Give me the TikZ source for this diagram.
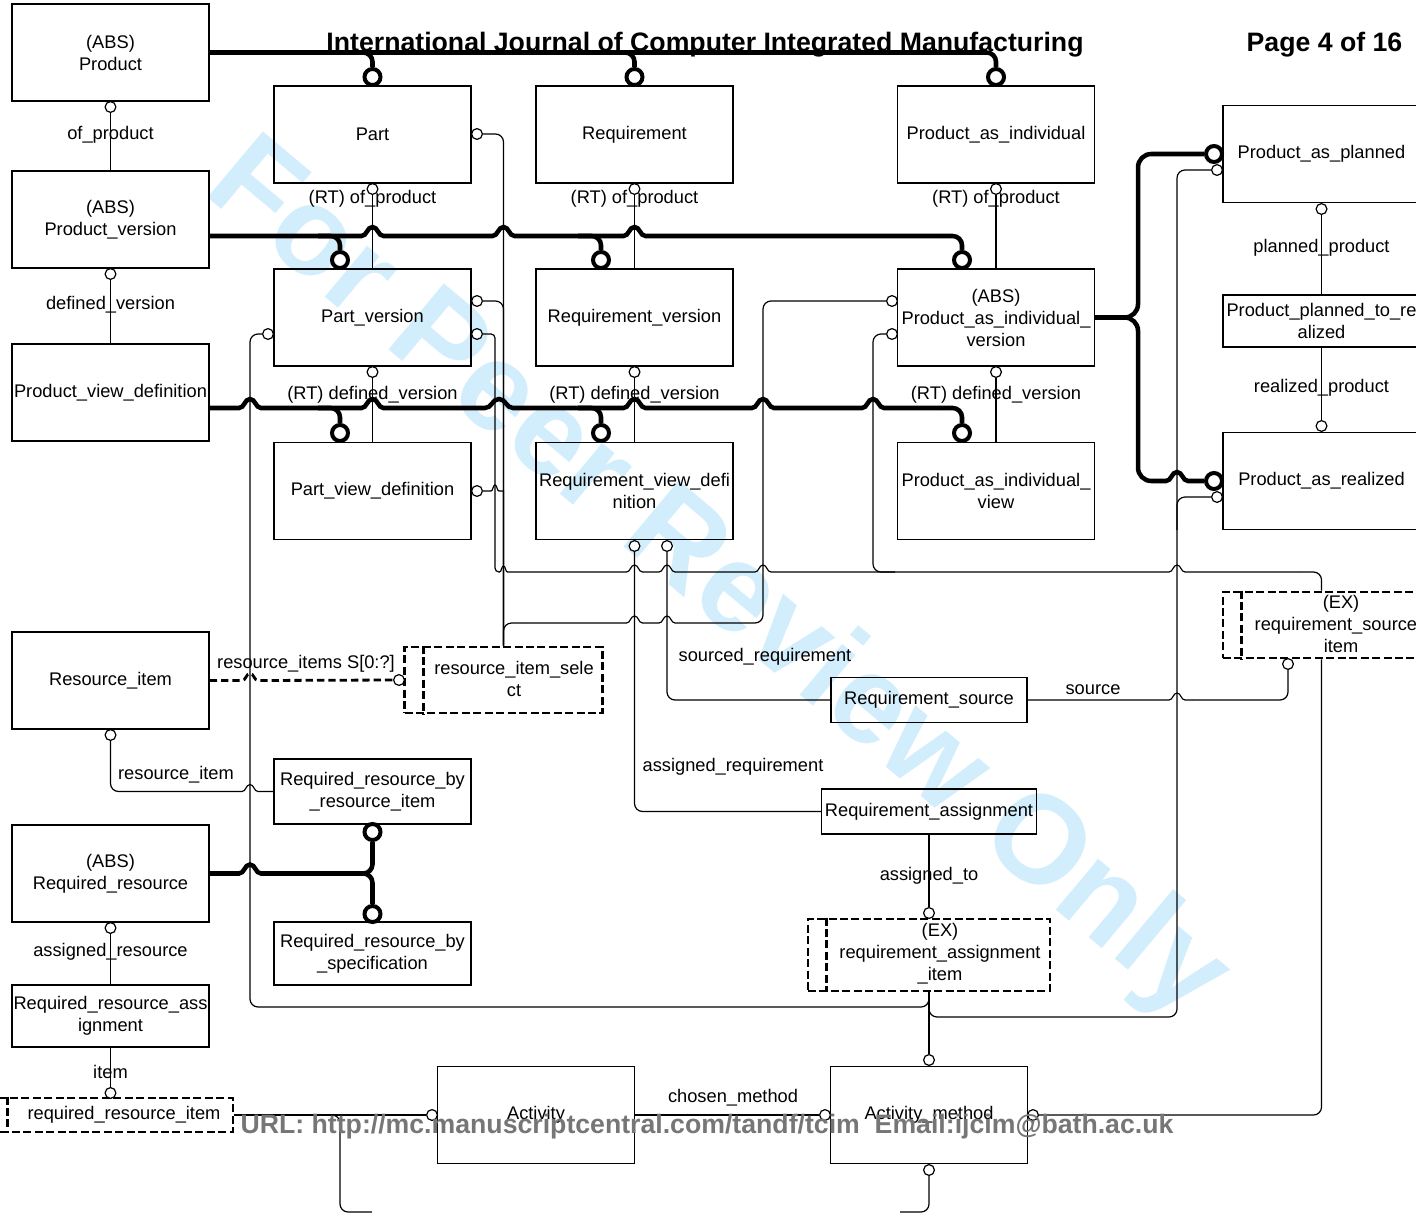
\documentclass[tikz,border=0pt]{standalone}
\usepackage{fontspec}
\setmainfont{Liberation Sans}
\definecolor{wm}{RGB}{210,238,252}
\definecolor{urlgray}{RGB}{118,118,118}
\newcommand\dfont{\fontsize{13.7}{16.5}\selectfont}
\newcommand\hfont{\bfseries\fontsize{20}{24}\selectfont}
\tikzset{
  box/.style={draw, line width=1.1pt, inner sep=0pt, align=center, font=\dfont},
  sz/.style 2 args={minimum width=#1*0.75pt, minimum height=#2*0.75pt},
  std/.style={box, sz={197}{97}},
  dbox/.style={draw, line width=2.2pt, dash pattern=on 6pt off 2.6pt, inner sep=0pt},
  dline/.style={line width=2.2pt, dash pattern=on 6pt off 2.6pt},
  txt/.style={inner sep=0pt, align=center, font=\dfont},
  lbl/.style={inner sep=0pt, font=\dfont},
  tl/.style={line width=0.9pt},
  thk/.style={line width=3.4pt},
  dsh/.style={line width=2.1pt, dash pattern=on 5.5pt off 3pt},
  oc/.style={circle, draw, fill=white, line width=0.9pt, inner sep=0pt, minimum size=8.1pt},
  tc/.style={circle, draw, fill=white, line width=3pt, inner sep=0pt, minimum size=12pt},
  hop/.style n args={4}{insert path={-- ({#1-(#3)},#2) .. controls ({#1-(#3)/2},#2) and ({#1-(#3)/2},{#2-#4}) .. (#1,{#2-#4}) .. controls ({#1+(#3)/2},{#2-#4}) and ({#1+(#3)/2},#2) .. ({#1+(#3)},#2)}},
  th/.style 2 args={hop={#1}{#2}{8}{7}},
  thl/.style 2 args={hop={#1}{#2}{-8}{7}},
  tk/.style 2 args={hop={#1}{#2}{11}{9}},
}
\begin{document}
\begin{tikzpicture}[x=0.75pt,y=-0.75pt]
\useasboundingbox (0,0) rectangle (1416,1213);
\clip (0,0) rectangle (1416,1213);
% watermark
\node[rotate=-40, text=wm, font=\bfseries\fontsize{94}{94}\selectfont, inner sep=0pt] (wmk) at (716,582) {For Peer Review Only};

% ---------- boxes ----------
\node[std] (product) at (110.5,52.5) {(ABS)\\Product};
\node[std] (pversion) at (110.5,219.5) {(ABS)\\Product\_version};
\node[std] (pvd) at (110.5,392.5) {Product\_view\_definition};
\node[std] (part) at (372.5,134.5) {Part};
\node[std] (req) at (634.5,134.5) {Requirement};
\node[std] (pai) at (996,134.5) {Product\_as\_individual};
\node[std] (partv) at (372.5,317.5) {Part\_version};
\node[std] (reqv) at (634.5,317.5) {Requirement\_version};
\node[std] (paiv) at (996,317.5) {(ABS)\\Product\_as\_individual\_\\version};
\node[std] (partvd) at (372.5,491) {Part\_view\_definition};
\node[std] (reqvd) at (634.5,491) {Requirement\_view\_defi\\nition};
\node[std] (paivw) at (996,491) {Product\_as\_individual\_\\view};
\node[std] (pap) at (1321.5,154) {Product\_as\_planned};
\node[box, sz={197}{52}] (pptr) at (1321.5,321) {Product\_planned\_to\_re\\alized};
\node[std] (par) at (1321.5,481) {Product\_as\_realized};
\node[std] (ri) at (110.5,680.5) {Resource\_item};
\node[box, sz={197}{65}] (rrbri) at (372.5,791.5) {Required\_resource\_by\\\_resource\_item};
\node[std] (rr) at (110.5,873.5) {(ABS)\\Required\_resource};
\node[box, sz={197}{63}] (rrbs) at (372.5,953.5) {Required\_resource\_by\\\_specification};
\node[box, sz={197}{62}] (rra) at (110.5,1016) {Required\_resource\_ass\\ignment};
\node[std] (act) at (536,1115) {Activity};
\node[std] (am) at (929,1115) {Activity\_method};
\node[box, sz={196}{45}] (rs) at (929,700) {Requirement\_source};
\node[box, sz={215}{45}] (ra) at (929,811.5) {Requirement\_assignment};

% dashed (select) boxes
\node[dbox, sz={198}{66}] (ris) at (503.5,680) {};
\draw[dline] ([xshift=15pt]ris.north west) -- ([xshift=15pt]ris.south west);
\node[txt] (ris-t) at (514,679) {resource\_item\_sele\\ct};

\node[dbox, sz={217}{66}] (rsi) at (1331.5,625) {};
\draw[dline] ([xshift=15pt]rsi.north west) -- ([xshift=15pt]rsi.south west);
\node[txt] (rsi-t) at (1341,624) {(EX)\\requirement\_source\_\\item};

\node[dbox, sz={242}{72}] (rai) at (929,955) {};
\draw[dline] ([xshift=15pt]rai.north west) -- ([xshift=15pt]rai.south west);
\node[txt] (rai-t) at (940,954) {(EX)\\requirement\_assignment\\\_item};

\node[dbox, sz={244}{34}] (rrit) at (111,1115) {};
\draw[dline] ([xshift=15pt]rrit.north west) -- ([xshift=15pt]rrit.south west);
\node[txt] (rrit-t) at (124,1115) {required\_resource\_item};

% ---------- small circles ----------
\node[oc] (c-prod) at (110.5,107) {};
\node[oc] (c-pv) at (110.5,274) {};
\node[oc] (c-part) at (372.5,189) {};
\node[oc] (c-req) at (634.5,189) {};
\node[oc] (c-pai) at (996,189) {};
\node[oc] (c-partv) at (372.5,372) {};
\node[oc] (c-reqv) at (634.5,372) {};
\node[oc] (c-paiv) at (996,372) {};
\node[oc] (c-partR) at (477,134) {};
\node[oc] (c-partvR1) at (477,301) {};
\node[oc] (c-partvR2) at (477,334) {};
\node[oc] (c-partvL) at (268,334) {};
\node[oc] (c-partvdR) at (477,491) {};
\node[oc] (c-rvd1) at (634.5,546) {};
\node[oc] (c-rvd2) at (667,546) {};
\node[oc] (c-paivL1) at (892,301) {};
\node[oc] (c-paivL2) at (892,334) {};
\node[oc] (c-papB) at (1321.5,209) {};
\node[oc] (c-papL) at (1217,170) {};
\node[oc] (c-parT) at (1321.5,426) {};
\node[oc] (c-parL) at (1217,497) {};
\node[oc] (c-rsiB) at (1288,664) {};
\node[oc] (c-risL) at (399,680) {};
\node[oc] (c-riB) at (110.5,735) {};
\node[oc] (c-rrB) at (110.5,928) {};
\node[oc] (c-rritT) at (110.5,1093) {};
\node[oc] (c-raiT) at (929,913) {};
\node[oc] (c-actL) at (432,1115) {};
\node[oc] (c-amL) at (825,1115) {};
\node[oc] (c-amR) at (1033,1115) {};
\node[oc] (c-amT) at (929,1060) {};
\node[oc] (c-amB) at (929,1170) {};

% ---------- thick circles ----------
\node[tc] (t-part) at (372.5,77) {};
\node[tc] (t-req) at (634.5,77) {};
\node[tc] (t-pai) at (996,77) {};
\node[tc] (t-partv) at (340,260) {};
\node[tc] (t-reqv) at (601,260) {};
\node[tc] (t-paiv) at (962,260) {};
\node[tc] (t-partvd) at (340,433) {};
\node[tc] (t-reqvd) at (601,433) {};
\node[tc] (t-paivw) at (962,433) {};
\node[tc] (t-pap) at (1214,154) {};
\node[tc] (t-par) at (1214,481) {};
\node[tc] (t-rrbri) at (372.5,832) {};
\node[tc] (t-rrbs) at (372.5,914) {};

% junction coordinates
\coordinate (jv1) at (318,236);
\coordinate (jv2) at (578,236);
\coordinate (jv3) at (938,236);
\coordinate (jd1) at (318,408);
\coordinate (jd2) at (578,408);
\coordinate (jd3) at (938,408);
\coordinate (k1) at (1138,317.5);
\coordinate (ja) at (1160,481);
\coordinate (jr) at (352,873.5);
\coordinate (ta1) at (745,623);
\coordinate (ta2) at (522,623);
\coordinate (tb0) at (499,572);
\coordinate (tb1) at (1300,572);
\coordinate (b1) at (895,572);
\coordinate (c1) at (1177,530);
\coordinate (ts1) at (1192,700);
\coordinate (tr1) at (240,791.5);

% ---------- thick (subtype) lines ----------
\draw[thk, rounded corners=7pt] (product.east) -| (t-part.north);
\draw[thk, rounded corners=7pt] (product.east) -| (t-req.north);
\draw[thk, rounded corners=7pt] (product.east) -| (t-pai.north);

\draw[thk] (pversion.east |- jv1) [tk={372.5}{236}] [tk={503.5}{236}] [tk={634.5}{236}] -- (jv3);
\draw[thk, rounded corners=7pt] (jv1) -| (t-partv.north);
\draw[thk, rounded corners=7pt] (jv2) -| (t-reqv.north);
\draw[thk, rounded corners=7pt] (jv3) -| (t-paiv.north);

\draw[thk] (pvd.east |- jd1) [tk={250}{408}] [tk={372.5}{408}] [hop={499}{408}{14}{9}] [tk={634.5}{408}] [tk={763}{408}] [tk={873}{408}] -- (jd3);
\draw[thk, rounded corners=7pt] (jd1) -| (t-partvd.north);
\draw[thk, rounded corners=7pt] (jd2) -| (t-reqvd.north);
\draw[thk, rounded corners=7pt] (jd3) -| (t-paivw.north);

\draw[thk, rounded corners=10pt] (paiv.east) -- (k1) |- (t-pap.west);
\draw[thk, rounded corners=10pt] (paiv.east) -- (k1) |- (ja);
\draw[thk] (ja) [tk={1177}{481}] -- (t-par.west);

\draw[thk] (rr.east) [tk={250}{873.5}] -- (jr);
\draw[thk, rounded corners=7pt] (jr) -| (t-rrbri.south);
\draw[thk, rounded corners=7pt] (jr) -| (t-rrbs.north);

% ---------- thin relationship lines ----------
\draw[tl] (c-prod.south) -- (pversion.north);
\draw[tl] (c-pv.south) -- (pvd.north);
\draw[tl] (c-part.south) -- (partv.north);
\draw[tl] (c-req.south) -- (reqv.north);
\draw[tl] (c-pai.south) -- (paiv.north);
\draw[tl] (c-partv.south) -- (partvd.north);
\draw[tl] (c-reqv.south) -- (reqvd.north);
\draw[tl] (c-paiv.south) -- (paivw.north);
\draw[tl] (c-papB.south) -- (pptr.north);
\draw[tl] (pptr.south) -- (c-parT.north);

% select tree: resource_item_select
\draw[tl, rounded corners=6pt] (c-partR.east) -| (ris.north);
\draw[tl, rounded corners=6pt] (c-partvR1.east) -| (ris.north);
\draw[tl] (c-partvdR.east) [hop={495}{491}{4}{6}] -| (ris.north);
\draw[tl, rounded corners=6pt] (c-paivL1.west) -| (763,623) -- (ta1);
\draw[tl] (ta1) [thl={667}{623}] [thl={634.5}{623}] -- (ta2);
\draw[tl, rounded corners=6pt] (ta2) -| (ris.north);

% select tree: requirement_source_item
\draw[tl, rounded corners=3pt] (c-partvR2.east) -| (495,572) -- (tb0);
\draw[tl] (tb0) [hop={503.5}{572}{4}{6}] [th={634.5}{572}] [th={667}{572}] [th={763}{572}] [th={1177}{572}] -- (tb1);
\draw[tl, rounded corners=6pt] (tb1) -| (rsi.north -| c-parT);
\draw[tl, rounded corners=6pt] (c-paivL2.west) -| (873,572) -- (b1);
\draw[tl, rounded corners=6pt] (rsi.south -| c-parT) |- (c-amR.east);
\draw[tl, rounded corners=6pt] (c-rsiB.south) |- (ts1);
\draw[tl] (ts1) [thl={1177}{700}] -- (rs.east);

% select tree: requirement_assignment_item
\draw[tl, rounded corners=6pt] (c-partvL.west) -| (250,1007) -| (rai.south);
\draw[tl, rounded corners=6pt] (c-papL.west) -| (1177,1017) -| (rai.south);
\draw[tl, rounded corners=6pt] (c-parL.west) -| (c1);
\draw[tl] (rai.south) -- (c-amT.north);

% requirement links
\draw[tl, rounded corners=6pt] (c-rvd2.south) |- (rs.west);
\draw[tl, rounded corners=6pt] (c-rvd1.south) |- (ra.west);
\draw[tl] (ra.south) -- (c-raiT.north);
\draw[tl] (act.east) -- (c-amL.west);
\draw[tl] (rrit.east) -- (c-actL.west);
\draw[tl, rounded corners=6pt] (rrit.east) -| (340,1212) -- (372,1212);
\draw[tl, rounded corners=6pt] (c-amB.south) |- (900,1212);

% resources
\draw[dsh] (ri.east) [th={250}{680.5}] -- (c-risL.west);
\draw[tl, rounded corners=6pt] (c-riB.south) |- (tr1);
\draw[tl] (tr1) [th={250}{791.5}] -- (rrbri.west);
\draw[tl] (c-rrB.south) -- (rra.north);
\draw[tl] (rra.south) -- (c-rritT.north);

% ---------- labels ----------
\node[lbl] at (110.5,135) {of\_product};
\node[lbl] at (110.5,305) {defined\_version};
\node[lbl] at (372.5,199) {(RT) of\_product};
\node[lbl] at (634.5,199) {(RT) of\_product};
\node[lbl] at (996,199) {(RT) of\_product};
\node[lbl] at (372.5,395) {(RT) defined\_version};
\node[lbl] at (634.5,395) {(RT) defined\_version};
\node[lbl] at (996,395) {(RT) defined\_version};
\node[lbl] at (1321.5,248) {planned\_product};
\node[lbl] at (1321.5,388) {realized\_product};
\node[lbl] at (306,664) {resource\_items S[0:?]};
\node[lbl] at (176,775) {resource\_item};
\node[lbl] at (765,657) {sourced\_requirement};
\node[lbl] at (1093,690) {source};
\node[lbl] at (733,767) {assigned\_requirement};
\node[lbl] at (929,876) {assigned\_to};
\node[lbl] at (110.5,952) {assigned\_resource};
\node[lbl] at (110.5,1072) {item};
\node[lbl] at (733,1098) {chosen\_method};

% ---------- header / footer ----------
\node[font=\hfont, inner sep=0pt] (title) at (705,44.5) {International Journal of Computer Integrated Manufacturing};
\node[font=\hfont, inner sep=0pt] (page) at (1324.5,44.5) {Page 4 of 16};
\node[font=\hfont, text=urlgray, inner sep=0pt] (url) at (707,1127) {URL: http://mc.manuscriptcentral.com/tandf/tcim\ \ Email:ijcim@bath.ac.uk};
\end{tikzpicture}
\end{document}
